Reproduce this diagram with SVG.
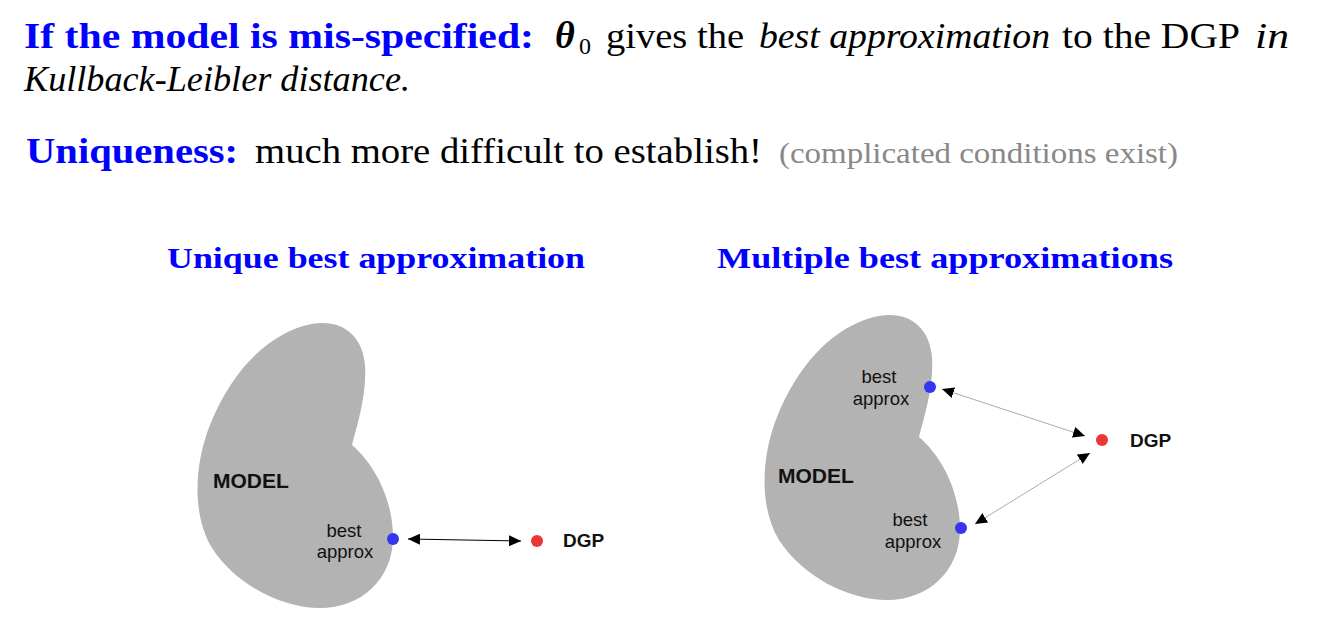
<svg xmlns="http://www.w3.org/2000/svg" width="1334" height="635" viewBox="0 0 1334 635">
<style>
.txt{font-family:"Liberation Serif","Times New Roman",serif;font-size:35px;fill:#000}
.blue{fill:#0000ff;font-weight:bold}
.it{font-style:italic}
.gray{fill:#888;font-size:29px}
.head{font-family:"Liberation Serif","Times New Roman",serif;font-size:30px;font-weight:bold;fill:#0000ff}
.lbl{font-family:"Liberation Sans",Arial,sans-serif;font-size:18.5px;fill:#111;text-anchor:middle}
.bold{font-family:"Liberation Sans",Arial,sans-serif;font-weight:bold;fill:#111}
.blob{fill:#b3b3b3}
.bdot{fill:#3535f5}
.rdot{fill:#ee3535}
.conn{stroke:#000;stroke-width:1;fill:none}
.conn2{stroke:#aaa;stroke-width:1;fill:none}
</style>
<defs>
<path id="kidney" d="M352,445 C372,462 392,495 393,535 C394,578 362,608 320,608 C282,608 236,585 212,548 C192,515 194,465 210,425 C230,375 262,340 300,327 C335,315 362,330 365,365 C367,395 357,425 352,445 Z"/>
<marker id="ah" markerWidth="12" markerHeight="11" refX="12" refY="5.5" orient="auto-start-reverse" markerUnits="userSpaceOnUse">
<path d="M0,0 L12,5.5 L0,11 Z" fill="#000"/>
</marker>
</defs>

<g id="text-header">
<text class="txt" y="48"><tspan class="blue" x="24" textLength="510" lengthAdjust="spacingAndGlyphs">If the model is mis-specified:</tspan></text>
<text class="txt" y="48"><tspan x="555" font-size="38" font-weight="bold" font-style="italic">θ</tspan><tspan x="579" y="54" font-size="24">0</tspan></text>
<text class="txt" y="48" x="606" textLength="138" lengthAdjust="spacingAndGlyphs">gives the</text>
<text class="txt it" y="48" x="759" textLength="291" lengthAdjust="spacingAndGlyphs">best approximation</text>
<text class="txt" y="48" x="1062" textLength="178" lengthAdjust="spacingAndGlyphs">to the DGP</text>
<text class="txt it" y="48" x="1255" textLength="34" lengthAdjust="spacingAndGlyphs">in</text>
<text class="txt it" y="91" x="24" textLength="386" lengthAdjust="spacingAndGlyphs">Kullback-Leibler distance.</text>
<text class="txt" y="163"><tspan class="blue" x="26" textLength="212" lengthAdjust="spacingAndGlyphs">Uniqueness:</tspan></text>
<text class="txt" y="163" x="255" textLength="507" lengthAdjust="spacingAndGlyphs">much more difficult to establish!</text>
<text class="txt gray" y="163" x="779" textLength="399" lengthAdjust="spacingAndGlyphs">(complicated conditions exist)</text>
<text class="head" y="268" x="167" textLength="418" lengthAdjust="spacingAndGlyphs">Unique best approximation</text>
<text class="head" y="268" x="717" textLength="456" lengthAdjust="spacingAndGlyphs">Multiple best approximations</text>
</g>

<g id="model-left">
<use href="#kidney" class="blob"/>
<text class="bold" x="213" y="488" font-size="21">MODEL</text>
</g>
<g id="best-left">
<text class="lbl" x="344" y="537">best</text>
<text class="lbl" x="345" y="558">approx</text>
<circle class="bdot" cx="393" cy="539" r="6"/>
</g>
<g id="dgp-left">
<circle class="rdot" cx="537" cy="541" r="6"/>
<text class="bold" x="563" y="547" font-size="19">DGP</text>
</g>

<g id="model-right">
<use href="#kidney" class="blob" transform="translate(567,-8)"/>
<text class="bold" x="778" y="483" font-size="21">MODEL</text>
</g>
<g id="best-right-upper">
<text class="lbl" x="879" y="383">best</text>
<text class="lbl" x="881" y="405">approx</text>
<circle class="bdot" cx="930" cy="387" r="6"/>
</g>
<g id="best-right-lower">
<text class="lbl" x="910" y="526">best</text>
<text class="lbl" x="913" y="548">approx</text>
<circle class="bdot" cx="961" cy="528" r="6"/>
</g>
<g id="dgp-right">
<circle class="rdot" cx="1102" cy="440" r="6"/>
<text class="bold" x="1130" y="447" font-size="19">DGP</text>
</g>

<g id="connectors">
<line class="conn" x1="408" y1="539" x2="521" y2="541" marker-start="url(#ah)" marker-end="url(#ah)"/>
<line class="conn2" x1="942" y1="389" x2="1085" y2="436" marker-start="url(#ah)" marker-end="url(#ah)"/>
<line class="conn2" x1="975" y1="524" x2="1090" y2="453" marker-start="url(#ah)" marker-end="url(#ah)"/>
</g>
</svg>
